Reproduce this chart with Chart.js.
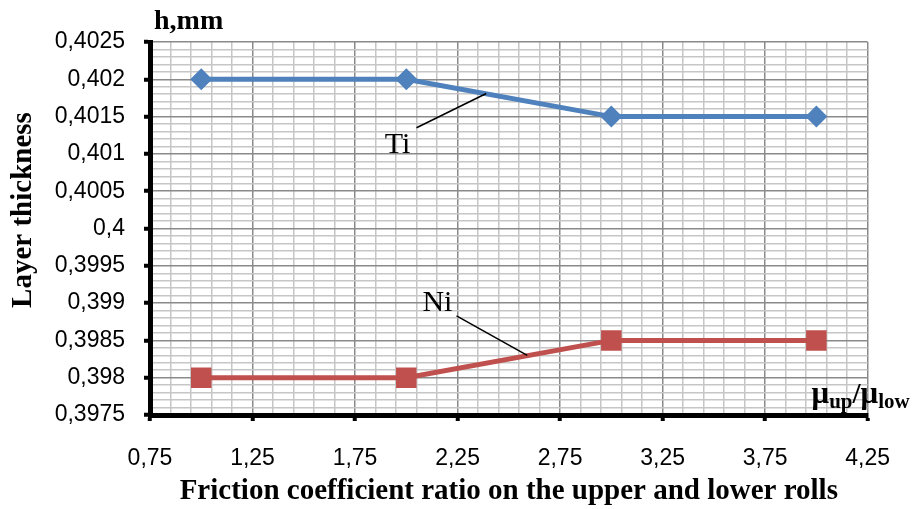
<!DOCTYPE html>
<html>
<head>
<meta charset="utf-8">
<script src="https://cdn.jsdelivr.net/npm/chart.js@4.4.1/dist/chart.umd.min.js"></script>
<style>
    html, body { margin: 0; padding: 0; background: #fff; }
</style>
</head>
<body>
<canvas id="layerChart" width="914" height="509"></canvas>
<script>
// friction coefficient ratio and layer thickness of each layer
const ratios = [1, 2, 3, 4];
const tiThickness = [0.402, 0.402, 0.4015, 0.4015];
const niThickness = [0.398, 0.398, 0.3985, 0.3985];

// labelled ticks; each interval is split into 5 minor grid steps
const xMajorTicks = [0.75, 1.25, 1.75, 2.25, 2.75, 3.25, 3.75, 4.25];
const yMajorTicks = [0.3975, 0.398, 0.3985, 0.399, 0.3995, 0.4, 0.4005, 0.401, 0.4015, 0.402, 0.4025];
const minorSteps = 5;

// callouts: text, text x, text y, line start x, y, line end x, y (data units)
const calloutNames = ['Ti', 'Ni'];
const calloutText = [[1.957, 0.40101], [2.152, 0.39889]];
const calloutLine = [[2.05, 0.40135, 2.39, 0.40181], [2.245, 0.39883, 2.59, 0.39830]];

function subdivide(majors) {
    const out = [];
    for (let i = 0; i < majors.length - 1; i++) {
        const a = majors[i], b = majors[i + 1];
        for (let k = 0; k < minorSteps; k++) {
            out.push(Math.round((a + (b - a) * k / minorSteps) * 1e6) / 1e6);
        }
    }
    out.push(majors[majors.length - 1]);
    return out;
}
const xTickValues = subdivide(xMajorTicks);
const yTickValues = subdivide(yMajorTicks);

const fmt = v => String(Math.round(v * 1e4) / 1e4).replace('.', ',');
const isMajor = ctx => ctx.index % minorSteps === 0;

const gridOpts = {
    color: ctx => isMajor(ctx) ? '#8a8a8a' : '#c6c6c6',
    lineWidth: 1.5,
    drawTicks: true,
    tickLength: 6,
    tickWidth: 4,
    tickColor: ctx => isMajor(ctx) ? '#000' : 'rgba(0,0,0,0)'
};

// free texts: axis captions and the Ti / Ni callouts
const extraText = {
    id: 'extraText',
    afterDraw(chart) {
        const { ctx, chartArea, scales: { x, y } } = chart;
        ctx.save();
        ctx.fillStyle = '#000';

        ctx.font = 'bold 28px "Liberation Serif"';
        ctx.textAlign = 'left';
        ctx.textBaseline = 'alphabetic';
        ctx.fillText('h,mm', chartArea.left + 4, 29);

        ctx.save();
        ctx.font = 'bold 29px "Liberation Serif"';
        ctx.translate(24, 210);
        ctx.rotate(-Math.PI / 2);
        ctx.textAlign = 'center';
        ctx.textBaseline = 'middle';
        ctx.fillText('Layer thickness', 0, 0);
        ctx.restore();

        // mu_up / mu_low at the end of the x axis
        let px = chartArea.right - 56;
        const base = chartArea.bottom - 12;
        const parts = [['\u03BC', 31, 0], ['up', 21, 5], ['/', 29, 0], ['\u03BC', 31, 0], ['low', 21, 5]];
        parts.forEach(([t, size, dy]) => {
            ctx.font = 'bold ' + size + 'px "Liberation Serif"';
            ctx.fillText(t, px, base + dy);
            px += ctx.measureText(t).width;
        });

        calloutNames.forEach((name, i) => {
            const [l1x, l1y, l2x, l2y] = calloutLine[i];
            ctx.strokeStyle = '#000';
            ctx.lineWidth = 1.5;
            ctx.beginPath();
            ctx.moveTo(x.getPixelForValue(l1x), y.getPixelForValue(l1y));
            ctx.lineTo(x.getPixelForValue(l2x), y.getPixelForValue(l2y));
            ctx.stroke();
            ctx.font = '30px "Liberation Serif"';
            ctx.textAlign = 'center';
            ctx.fillText(name, x.getPixelForValue(calloutText[i][0]), y.getPixelForValue(calloutText[i][1]));
            ctx.textAlign = 'left';
        });
        ctx.restore();
    }
};

const chart = new Chart(document.getElementById('layerChart'), {
    type: 'line',
    data: {
        datasets: [
            {
                label: 'Ti',
                data: ratios.map((r, i) => ({ x: r, y: tiThickness[i] })),
                borderColor: '#4F81BD',
                backgroundColor: '#4F81BD',
                borderWidth: 5,
                pointStyle: 'rectRot',
                pointRadius: 11,
                pointBorderWidth: 0
            },
            {
                label: 'Ni',
                data: ratios.map((r, i) => ({ x: r, y: niThickness[i] })),
                borderColor: '#C0504D',
                backgroundColor: '#C0504D',
                borderWidth: 5,
                pointStyle: 'rect',
                pointRadius: 14.5,
                pointBorderWidth: 0
            }
        ]
    },
    options: {
        responsive: false,
        animation: false,
        layout: { padding: { left: 0, top: 42, right: 45, bottom: 0 } },
        plugins: {
            legend: { display: false },
            tooltip: { enabled: false }
        },
        scales: {
            x: {
                type: 'linear',
                min: 0.75,
                max: 4.25,
                afterBuildTicks: scale => { scale.ticks = xTickValues.map(v => ({ value: v })); },
                afterFit: scale => { scale.height = 94; },
                grid: gridOpts,
                border: { color: '#000', width: 5 },
                ticks: {
                    autoSkip: false,
                    maxRotation: 0,
                    padding: 24,
                    color: '#000',
                    font: { family: 'Liberation Sans', size: 23 },
                    callback: (v, i) => i % minorSteps === 0 ? fmt(v) : ''
                },
                title: {
                    display: true,
                    text: 'Friction coefficient ratio on the upper and lower rolls',
                    color: '#000',
                    padding: 0,
                    font: { family: 'Liberation Serif', size: 29, weight: 'bold' }
                }
            },
            y: {
                type: 'linear',
                min: 0.3975,
                max: 0.4025,
                afterBuildTicks: scale => { scale.ticks = yTickValues.map(v => ({ value: v })); },
                afterFit: scale => { scale.width = 150; },
                grid: gridOpts,
                border: { color: '#000', width: 5 },
                ticks: {
                    autoSkip: false,
                    padding: 19,
                    color: '#000',
                    font: { family: 'Liberation Sans', size: 23 },
                    callback: (v, i) => i % minorSteps === 0 ? fmt(v) : ''
                }
            }
        }
    },
    plugins: [extraText]
});
</script>
</body>
</html>
